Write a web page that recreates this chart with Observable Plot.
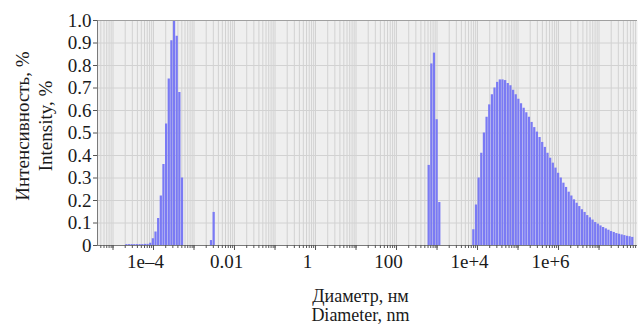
<!DOCTYPE html>
<html><head><meta charset="utf-8">
<script src="https://cdn.jsdelivr.net/npm/d3@7"></script>
<script src="https://cdn.jsdelivr.net/npm/@observablehq/plot@0.6"></script>
<style>
html,body{margin:0;padding:0;background:#fff}
#chart svg, #chart svg text {font-family: "Liberation Serif", "Times New Roman", serif !important;}
</style>
</head><body><div id="chart"></div>
<script>
// size classes are spaced evenly on the log axis (instrument bins)
const binStep = 0.0654; // decades between neighbouring size classes

// group: log10 of first class diameter (nm), then intensities (%)
const tailStart = -4.658;
const tailValues = [0.004, 0.004, 0.004, 0.004, 0.004, 0.004, 0.004, 0.005, 0.005];
const peakAStart = -4.069;
const peakAValues = [0.01, 0.03, 0.06, 0.12, 0.22, 0.36, 0.54, 0.74, 0.91, 1.0, 0.93, 0.68, 0.30];
const peakBStart = -2.568;
const peakBValues = [0.022, 0.147];
const peakCStart = 2.807;
const peakCValues = [0.356, 0.807, 0.855, 0.559, 0.191];
const peakDStart = 3.909;
const peakDValues = [0.07, 0.18, 0.30, 0.41, 0.50, 0.57, 0.625, 0.67, 0.70, 0.725,
  0.736, 0.736, 0.733, 0.72, 0.71, 0.69, 0.67, 0.65, 0.63, 0.61,
  0.59, 0.57, 0.547, 0.524, 0.504, 0.48, 0.458, 0.436, 0.41, 0.388,
  0.366, 0.344, 0.321, 0.30, 0.277, 0.258, 0.237, 0.22, 0.203, 0.188,
  0.173, 0.159, 0.147, 0.133, 0.123, 0.113, 0.102, 0.095, 0.087, 0.08,
  0.074, 0.068, 0.062, 0.058, 0.053, 0.05, 0.047, 0.044, 0.041, 0.039, 0.036];

const yTicks = [0, 0.1, 0.2, 0.3, 0.4, 0.5, 0.6, 0.7, 0.8, 0.9, 1.0];
const yTickLabels = ["0", "0.1", "0.2", "0.3", "0.4", "0.5", "0.6", "0.7", "0.8", "0.9", "1.0"];
const xTicks = [1e-4, 1e-2, 1, 100, 1e4, 1e6];
const xTickLabels = ["1e–4", "0.01", "1", "100", "1e+4", "1e+6"];
const xTitle1 = "Диаметр, нм";
const xTitle2 = "Diameter, nm";
const yTitle1 = "Интенсивность, %";
const yTitle2 = "Intensity, %";

const xDomain = [Math.pow(10, -5.383), Math.pow(10, 7.95)];

const groups = [[tailStart, tailValues], [peakAStart, peakAValues], [peakBStart, peakBValues],
  [peakCStart, peakCValues], [peakDStart, peakDValues]];
const bars = groups.flatMap(([s, vals]) => vals.map((v, i) => ({c: s + i * binStep, v})));

const decades = [];
const minors = [];
for (let k = -6; k <= 8; k++) {
  for (let n = 1; n <= 9; n++) {
    const v = +(n + "e" + k);
    if (v >= xDomain[0] && v <= xDomain[1]) { minors.push(v); if (n === 1) decades.push(v); }
  }
}

const serif = "Liberation Serif";
const ink = "#1a1a1a";

const chart = Plot.plot({
  width: 638, height: 325,
  marginTop: 20, marginBottom: 80, marginLeft: 97, marginRight: 1,
  style: {fontFamily: serif, fontSize: "19px", background: "#fff", color: ink},
  x: {type: "log", domain: xDomain, axis: null},
  y: {domain: [0, 1], axis: null},
  marks: [
    Plot.frame({fill: "#efefef", stroke: null}),
    Plot.gridX(minors, {stroke: "#d2d2d2", strokeOpacity: 1}),
    Plot.gridY(yTicks, {stroke: "#d2d2d2", strokeOpacity: 1}),
    Plot.rect(bars, {
      x1: d => Math.pow(10, d.c - binStep * 0.42),
      x2: d => Math.pow(10, d.c + binStep * 0.42),
      y1: 0, y2: "v", fill: "#7a7af4"
    }),
    Plot.ruleY([1], {stroke: "#a0a0a0"}),
    Plot.ruleY([0], {stroke: "#7a7a7a"}),
    Plot.frame({anchor: "left", stroke: "#7a7a7a"}),
    Plot.axisY(yTicks, {tickSize: 4, tickPadding: 2, stroke: "#555", label: null,
      fontFamily: serif, fontSize: 19, fill: ink,
      tickFormat: d => yTickLabels[yTicks.indexOf(d)]}),
    Plot.axisX(minors, {tickSize: 3, stroke: "#555", label: null, tickFormat: () => ""}),
    Plot.axisX(decades, {tickSize: 5, stroke: "#555", label: null, tickFormat: () => ""}),
    Plot.text(xTicks, {x: d => d, text: (d, i) => xTickLabels[i], frameAnchor: "bottom",
      lineAnchor: "middle", dy: 16, dx: -8, fill: ink, fontFamily: serif, fontSize: 19}),
    Plot.text([xTitle1], {frameAnchor: "bottom", lineAnchor: "middle", dy: 51, dx: -7, fill: ink, fontFamily: serif, fontSize: 18}),
    Plot.text([xTitle2], {frameAnchor: "bottom", lineAnchor: "middle", dy: 70, dx: -7, fill: ink, fontFamily: serif, fontSize: 18}),
    Plot.text([yTitle1], {frameAnchor: "left", textAnchor: "middle", lineAnchor: "middle", rotate: -90, dx: -75, dy: -7, fill: ink, fontFamily: serif, fontSize: 19}),
    Plot.text([yTitle2], {frameAnchor: "left", textAnchor: "middle", lineAnchor: "middle", rotate: -90, dx: -52, dy: -7, fill: ink, fontFamily: serif, fontSize: 19})
  ]
});
document.getElementById("chart").appendChild(chart);
</script>
</body></html>
